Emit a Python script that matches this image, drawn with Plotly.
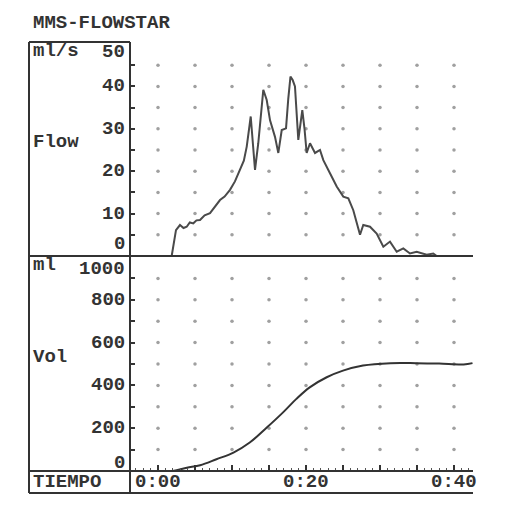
import numpy as np
import plotly.graph_objects as go

# ---- data ----
flow_t = [1.85, 2.43, 2.97, 3.45, 3.88, 4.3, 4.77, 5.2, 5.68, 6.3, 7.03, 7.6, 8.38, 9.0, 9.73,
          10.4, 11.08, 11.6, 11.99, 12.3, 12.53, 12.8, 13.11, 13.55, 13.9, 14.23, 14.69, 15.14,
          15.81, 16.26, 16.72, 17.30, 17.6, 17.9, 18.2, 18.51, 18.96, 19.5, 19.8, 20.09, 20.54,
          21.22, 21.89, 22.34, 23.24, 24.15, 25.04, 25.72, 26.39, 26.85, 27.30, 27.74, 28.65,
          29.55, 30.45, 31.35, 32.26, 33.15, 34.05, 34.96, 36.31, 37.20, 37.66]
flow_v = [0.0, 6.1, 7.3, 6.6, 6.9, 7.9, 7.7, 8.4, 8.5, 9.6, 10.1, 11.4, 13.2, 14.0, 15.6,
          17.6, 20.3, 22.5, 25.8, 30.0, 32.9, 27.0, 20.3, 26.6, 34.0, 39.2, 36.8, 32.0,
          28.1, 24.3, 29.7, 30.1, 37.0, 42.3, 41.5, 40.0, 27.4, 34.4, 30.0, 24.3, 26.6,
          24.3, 25.0, 22.6, 19.5, 16.4, 14.0, 13.6, 10.8, 7.7, 5.0, 7.3, 6.9,
          5.3, 2.2, 3.4, 1.0, 1.8, 0.6, 1.0, 0.3, 0.6, 0.0]

vol_t = [0.0, 2.0, 3.9, 5.7, 7.9, 10.2, 12.4, 14.7, 16.9, 18.7, 20.5, 22.8, 25.0, 27.7,
         31.4, 34.9, 38.0, 41.3, 42.5]
vol_v = [0, 0, 15, 27, 55, 86, 133, 203, 274, 337, 391, 438, 469, 493,
         504, 504, 502, 498, 504]

flow_ticks = [0, 10, 20, 30, 40, 50]
vol_ticks = [0, 200, 400, 600, 800, 1000]
time_ticks = [0, 20, 40]
time_labels = ["0:00", "0:20", "0:40"]

title = "MMS-FLOWSTAR"

# ---- geometry helpers (window pixels -> paper); page body has an 8px margin ----
OFF = 8
W, H = 523 - OFF, 511 - OFF
def px(x):
    return (x - OFF) / W
def py(y):
    return 1 - (y - OFF) / H

FONT = "Liberation Mono"
INK = "#333333"

fig = go.Figure()

# grid dots
gx = np.arange(0, 41, 5)
gy_f = np.arange(5, 46, 5)
gy_v = np.arange(100, 901, 100)
GX, GYF = np.meshgrid(gx, gy_f)
fig.add_trace(go.Scatter(x=GX.ravel(), y=GYF.ravel(), mode="markers",
                         marker=dict(size=3.5, color="#a0a0a0"), xaxis="x", yaxis="y",
                         hoverinfo="skip", showlegend=False))
GX2, GYV = np.meshgrid(gx, gy_v)
fig.add_trace(go.Scatter(x=GX2.ravel(), y=GYV.ravel(), mode="markers",
                         marker=dict(size=3.5, color="#a0a0a0"), xaxis="x", yaxis="y2",
                         hoverinfo="skip", showlegend=False))

# curves
fig.add_trace(go.Scatter(x=flow_t, y=flow_v, mode="lines",
                         line=dict(color="#4a4a4a", width=2), xaxis="x", yaxis="y",
                         showlegend=False))
fig.add_trace(go.Scatter(x=vol_t, y=vol_v, mode="lines", line_shape="spline",
                         line=dict(color="#333333", width=2), xaxis="x", yaxis="y2",
                         showlegend=False))

x0_px, x1_px = 130, 473
t_left = (x0_px - 158) / 7.4
t_right = (x1_px - 158) / 7.4

fig.update_layout(
    width=W, height=H,
    margin=dict(l=0, r=0, t=0, b=0),
    paper_bgcolor="white", plot_bgcolor="rgba(0,0,0,0)",
    xaxis=dict(domain=[px(x0_px), px(x1_px)], range=[t_left, t_right], anchor="y2",
               showgrid=False, zeroline=False, showticklabels=False,
               ticks="inside", tick0=0, dtick=5, ticklen=6, tickwidth=1.5, tickcolor=INK,
               minor=dict(ticks="inside", dtick=1, ticklen=3, tickwidth=1, tickcolor="#555"),
               showline=False),
    yaxis=dict(domain=[py(256), py(44)], range=[0, 50], anchor="x",
               showgrid=False, zeroline=False, showticklabels=False,
               ticks="inside", tick0=0, dtick=5, ticklen=5, tickwidth=1.5, tickcolor=INK),
    yaxis2=dict(domain=[py(471), py(257)], range=[0, 1000], anchor="x",
                showgrid=False, zeroline=False, showticklabels=False,
                ticks="inside", tick0=0, dtick=100, ticklen=5, tickwidth=1.5, tickcolor=INK),
)

# frame lines
lw = 2
def hline(y, xa, xb):
    fig.add_shape(type="line", xref="paper", yref="paper", x0=px(xa), x1=px(xb),
                  y0=py(y), y1=py(y), line=dict(color=INK, width=lw))
def vline(x, ya, yb):
    fig.add_shape(type="line", xref="paper", yref="paper", x0=px(x), x1=px(x),
                  y0=py(ya), y1=py(yb), line=dict(color=INK, width=lw))

hline(42, 29, 130)
hline(256, 29, 473)
hline(471, 29, 473)
hline(493, 29, 473)
vline(29, 42, 493)
vline(130, 42, 493)

FS = 19
ann_font = dict(family=FONT, size=FS, color=INK)

def label(text, x, y, xanchor="left", yanchor="middle"):
    fig.add_annotation(text=f"<b>{text}</b>", xref="paper", yref="paper", x=px(x), y=py(y),
                       xanchor=xanchor, yanchor=yanchor, showarrow=False, font=ann_font,
                       borderpad=0)

label(title, 32, 23)
label("ml/s", 32, 51)
label("Flow", 32, 142)
label("ml", 32, 265)
label("Vol", 32, 357)
label("TIEMPO", 32, 482)

def tick_labels(values, yref, top_shift, bottom_shift):
    for v in values:
        if v == values[-1]:
            ya, ys = "top", top_shift
        elif v == values[0]:
            ya, ys = "bottom", bottom_shift
        else:
            ya, ys = "middle", 0
        fig.add_annotation(text=f"<b>{v}</b>", xref="paper", yref=yref, x=px(126), y=v,
                           xanchor="right", yanchor=ya, yshift=ys, showarrow=False,
                           font=ann_font, borderpad=0)

tick_labels(flow_ticks, "y", 4, 0)
tick_labels(vol_ticks, "y2", 0, -4)

for t, s in zip(time_ticks, time_labels):
    fig.add_annotation(text=f"<b>{s}</b>", xref="x", yref="paper", x=t, y=py(482),
                       xanchor="center", yanchor="middle", showarrow=False, font=ann_font,
                       borderpad=0)

fig.write_html("out.html")
